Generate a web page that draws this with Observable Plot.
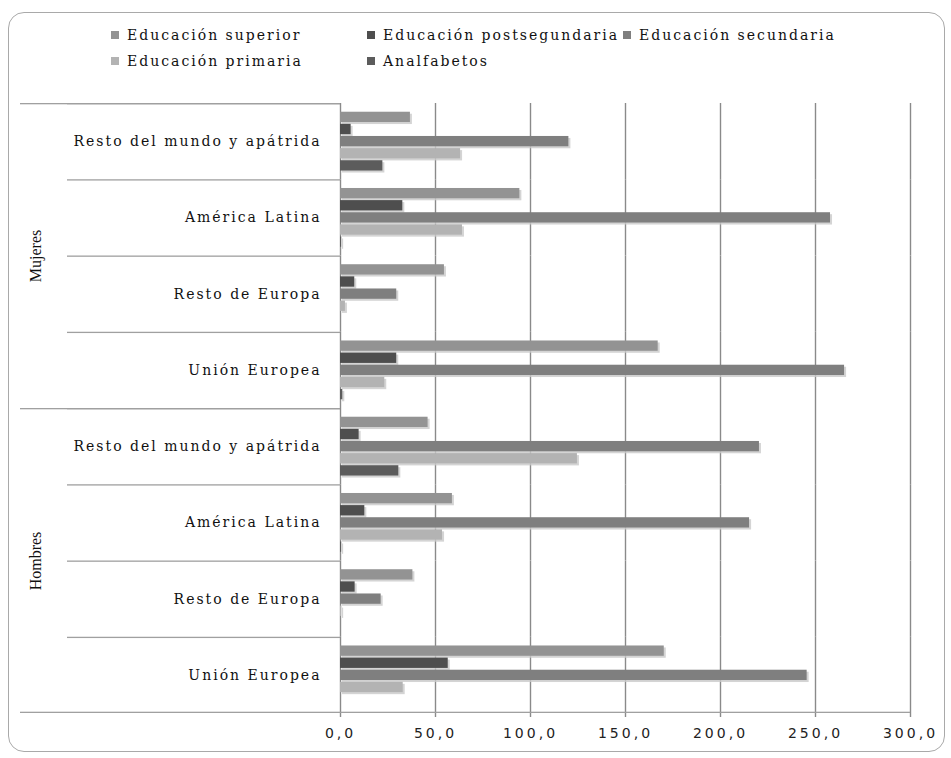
<!DOCTYPE html>
<html>
<head>
<meta charset="utf-8">
<script src="https://cdn.jsdelivr.net/npm/d3@7"></script>
<script src="https://cdn.jsdelivr.net/npm/@observablehq/plot@0.6"></script>
<style>
  html, body { margin: 0; padding: 0; background: #fff; }
  #wrap { position: relative; width: 951px; height: 758px; overflow: hidden; }
  #border { position: absolute; left: 8px; top: 12px; width: 935px; height: 738px;
            border: 1.5px solid #a9a9a9; border-radius: 16px; pointer-events: none; }
  #legend { position: relative; height: 80px; font-family: "DejaVu Serif", serif; font-size: 14px;
            letter-spacing: 2px; color: #111; }
  .item { position: absolute; display: flex; align-items: center; white-space: nowrap; height: 18px; }
  .sw { width: 8px; height: 8px; margin-right: 8px; flex: none; }
  #chart svg { display: block; }
  g[aria-label="fy-axis tick label"] text { letter-spacing: 2px; }
  g[aria-label="x-axis tick label"] text { letter-spacing: 3px; }
</style>
</head>
<body>
<div id="wrap">
  <div id="border"></div>
  <div id="legend"></div>
  <div id="chart"></div>
</div>
<script>
// ---- data ----
const groups = ["Mujeres", "Hombres"];
const regions = ["Resto del mundo y apátrida", "América Latina", "Resto de Europa", "Unión Europea"];
const levels = ["Educación superior", "Educación postsegundaria", "Educación secundaria", "Educación primaria", "Analfabetos"];
const levelColors = ["#939393", "#4e4e4e", "#7f7f7f", "#b3b3b3", "#5c5c5c"];
const xTicks = [0, 50, 100, 150, 200, 250, 300];

// values per region (order of `regions`)
const mujeresSuperior       = [36.8, 94.4, 54.7, 167.2];
const mujeresPostsegundaria = [5.6, 32.8, 7.5, 29.6];
const mujeresSecundaria     = [120.2, 257.9, 29.6, 265.3];
const mujeresPrimaria       = [63.2, 64.2, 2.6, 23.3];
const mujeresAnalfabetos    = [22.3, 0.6, 0, 1.2];

const hombresSuperior       = [46.1, 58.9, 38.1, 170.4];
const hombresPostsegundaria = [9.8, 12.8, 7.7, 56.7];
const hombresSecundaria     = [220.5, 215.3, 21.4, 245.6];
const hombresPrimaria       = [124.7, 53.7, 0.6, 33.0];
const hombresAnalfabetos    = [30.7, 0.6, 0, 0];

// ---- build table ----
const seriesByGroup = {
  Mujeres: [mujeresSuperior, mujeresPostsegundaria, mujeresSecundaria, mujeresPrimaria, mujeresAnalfabetos],
  Hombres: [hombresSuperior, hombresPostsegundaria, hombresSecundaria, hombresPrimaria, hombresAnalfabetos]
};
const keyOf = (g, r) => g + "|" + r;
const keys = groups.flatMap(g => regions.map(r => keyOf(g, r)));
const rows = [];
for (const g of groups) {
  levels.forEach((lv, li) => {
    regions.forEach((r, ri) => {
      rows.push({key: keyOf(g, r), group: g, region: r, level: lv, value: seriesByGroup[g][li][ri]});
    });
  });
}

// ---- legend ----
const legend = document.getElementById("legend");
const legendPos = [[111, 26], [367, 26], [623, 26], [111, 52], [367, 52]];
levels.forEach((lv, i) => {
  const it = document.createElement("div");
  it.className = "item";
  it.style.left = legendPos[i][0] + "px";
  it.style.top = legendPos[i][1] + "px";
  const sw = document.createElement("span");
  sw.className = "sw";
  sw.style.background = levelColors[i];
  const tx = document.createElement("span");
  tx.textContent = lv;
  it.appendChild(sw); it.appendChild(tx);
  legend.appendChild(it);
});

// ---- chart ----
const W = 951, H = 678, mT = 23, mB = 45, mL = 340, mR = 41;
const facetH = (H - mT - mB) / keys.length;
const lineColor = "#a0a0a0";
const gridColor = "#8a8a8a";
const groupTops = groups.map(g => keyOf(g, regions[0]));
const groupMids = groups.map(g => ({key: keyOf(g, regions[1]), label: g}));
const lastKey = keys[keys.length - 1];
const fmt = d => d.toFixed(1).replace(".", ",");

const chart = Plot.plot({
  width: W, height: H,
  marginTop: mT, marginBottom: mB, marginLeft: mL, marginRight: mR,
  style: {background: "transparent", overflow: "visible"},
  x: {domain: [0, 300], label: null},
  y: {domain: levels, axis: null, paddingInner: 0.15, paddingOuter: 0.72, round: false},
  fy: {domain: keys, padding: 0, label: null, round: false},
  color: {domain: levels, range: levelColors},
  marks: [
    Plot.ruleX(xTicks, {x: d => d, stroke: gridColor, strokeWidth: 1.4}),
    Plot.rect(keys, {fy: d => d, fill: lineColor, insetLeft: -(mL - 67), insetRight: W - mL - mR, insetBottom: facetH - 1.3}),
    Plot.rect(groupTops, {fy: d => d, fill: lineColor, insetLeft: -(mL - 20), insetRight: W - mL - mR, insetBottom: facetH - 1.3}),
    Plot.rect([lastKey], {fy: d => d, fill: lineColor, insetLeft: -(mL - 20), insetRight: 0, insetTop: facetH - 1.3}),
    Plot.barX(rows, {fy: "key", y: "level", x: "value", fill: "#c9c9c9", fillOpacity: 0.8, dx: 2, dy: 2}),
    Plot.barX(rows, {fy: "key", y: "level", x: "value", fill: "level"}),
    Plot.axisX(xTicks, {anchor: "bottom", tickFormat: fmt, tickSize: 4, tickPadding: 11, fontSize: 14,
      fontFamily: "DejaVu Sans", stroke: gridColor, strokeWidth: 1.4, fill: "#222", label: null}),
    Plot.axisFy({anchor: "left", tickSize: 0, tickPadding: 19, tickFormat: d => d.split("|")[1],
      fontSize: 14, fontFamily: "DejaVu Serif", fill: "#111", label: null}),
    Plot.text(groupMids, {fy: "key", text: "label", frameAnchor: "bottom-left", rotate: -90, dx: -305,
      textAnchor: "middle", lineAnchor: "middle",
      fontSize: 16, fontFamily: "Liberation Serif", fill: "#111"})
  ]
});
document.getElementById("chart").appendChild(chart);
</script>
</body>
</html>
